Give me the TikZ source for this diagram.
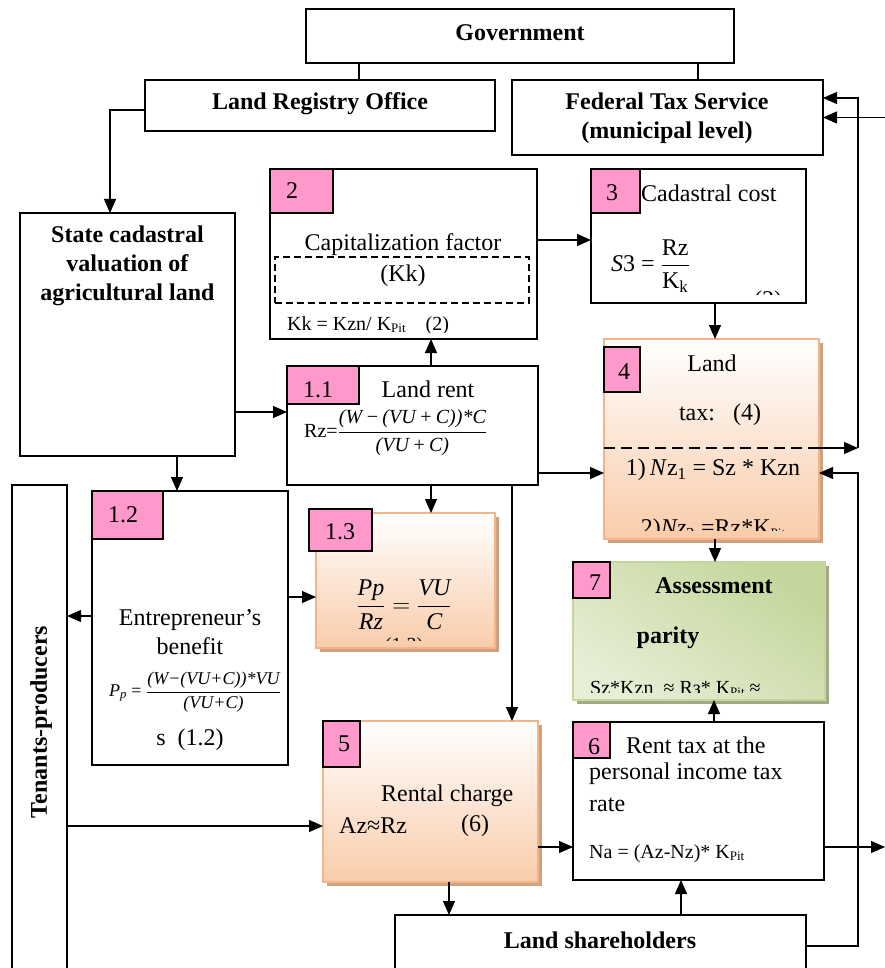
\documentclass[tikz,border=0pt]{standalone}
\usepackage{amsmath}
\usepackage{fontspec}
\setmainfont{Liberation Serif}
\usetikzlibrary{arrows.meta,calc,shadows}
\definecolor{pinkl}{RGB}{255,153,204}
\definecolor{orbord}{RGB}{244,180,135}
\definecolor{orbot}{RGB}{249,204,170}
\definecolor{orshadow}{RGB}{206,162,128}
\definecolor{grbord}{RGB}{196,215,155}
\definecolor{grdark}{RGB}{196,214,155}
\definecolor{grlight}{RGB}{236,242,224}
\definecolor{grshadow}{RGB}{160,170,135}
\newcommand{\kpit}{K\raisebox{-1.5pt}{\fontsize{13}{13}\selectfont Pit}}
\tikzset{
  box/.style={draw=black, line width=1.2pt, inner sep=0pt, outer sep=0pt, anchor=north west, fill=white},
  lbl/.style={box, fill=pinkl},
  arr/.style={line width=1.2pt, -{Triangle[length=14pt,width=12pt]}},
  ln/.style={line width=1.2pt},
  txt/.style={inner sep=0pt, font=\fontsize{24}{29}\selectfont},
  stxt/.style={inner sep=0pt, font=\fontsize{20}{24}\selectfont},
  btxt/.style={inner sep=0pt, font=\fontsize{24}{29}\selectfont\bfseries},
  orbox/.style={box, draw=orbord, top color=white, bottom color=orbot,
    drop shadow={shadow xshift=4pt, shadow yshift=-4pt, fill=orshadow, opacity=1}},
  grbox/.style={box, draw=grbord, top color=grdark, middle color=grlight, bottom color=grlight!85!grdark, shading angle=-35,
    drop shadow={shadow xshift=4pt, shadow yshift=-4pt, fill=grshadow, opacity=1}},
}
\begin{document}
\begin{tikzpicture}[x=1pt,y=-1pt]
\useasboundingbox (0,0) rectangle (885,968);
\fill[white] (0,0) rectangle (885,968);

% main boxes
\node[box, minimum width=428pt, minimum height=54pt] (gov) at (306,9) {};
\node[box, minimum width=350pt, minimum height=51pt] (lro) at (145,80) {};
\node[box, minimum width=311pt, minimum height=75pt] (fts) at (512,80) {};
\node[box, minimum width=215pt, minimum height=243pt] (scv) at (20,213) {};
\node[box, minimum width=267pt, minimum height=170pt] (b2) at (270,169) {};
\node[box, minimum width=215pt, minimum height=134pt] (b3) at (591,169) {};
\node[box, minimum width=251pt, minimum height=119pt] (b11) at (287,366) {};
\node[orbox, minimum width=215pt, minimum height=200pt] (b4) at (604,339) {};
\node[box, minimum width=196pt, minimum height=274pt] (b12) at (92,491) {};
\node[orbox, minimum width=179pt, minimum height=135pt] (b13) at (316,513) {};
\node[grbox, minimum width=252pt, minimum height=138pt] (b7) at (573,562) {};
\node[box, minimum width=55pt, minimum height=500pt] (ten) at (12,485) {};
\node[orbox, minimum width=215pt, minimum height=161pt] (b5) at (323,721) {};
\node[box, minimum width=251pt, minimum height=158pt] (b6) at (573,722) {};
\node[box, minimum width=411pt, minimum height=70pt] (ls) at (395,915) {};

% inner dashed box and dashed divider
\node[draw, dash pattern=on 7pt off 4pt, line width=1.2pt, inner sep=0pt, outer sep=0pt, anchor=north west, minimum width=254pt, minimum height=46pt] (kkb) at (275,257) {};
\draw[line width=2pt, dash pattern=on 11pt off 6pt] ([yshift=-9pt]b4.west) -- ([yshift=-9pt]b4.east);

% pink labels
\node[lbl, minimum width=63pt, minimum height=44pt] (l2) at (270,169) {};
\node[lbl, minimum width=49pt, minimum height=44pt] (l3) at (591,169) {};
\node[lbl, minimum width=72pt, minimum height=38pt] (l11) at (287,366) {};
\node[lbl, minimum width=36pt, minimum height=45pt] (l4) at (604,347) {};
\node[lbl, minimum width=71pt, minimum height=48pt] (l12) at (92,491) {};
\node[lbl, minimum width=63pt, minimum height=42pt] (l13) at (309,509) {};
\node[lbl, minimum width=37pt, minimum height=36pt] (l7) at (573,562) {};
\node[lbl, minimum width=37pt, minimum height=46pt] (l5) at (323,721) {};
\node[lbl, minimum width=37pt, minimum height=36pt] (l6) at (573,722) {};

% label numbers
\node[txt] (n2) at (292,191) {2};
\node[txt] (n3) at (612,193) {3};
\node[txt] (n11) at (318,390) {1.1};
\node[txt] (n4) at (624,372) {4};
\node[txt] (n12) at (123,515) {1.2};
\node[txt] (n13) at (340,532) {1.3};
\node[txt] (n7) at (595,583) {7};
\node[txt] (n5) at (344,744) {5};
\node[txt] (n6) at (594,747) {6};

% titles
\node[btxt] (tgov) at (520,33) {Government};
\node[btxt] (tlro) at (320,104) {Land Registry Office};
\node[btxt, align=center] (tfts) at (667,118) {Federal Tax Service\\(municipal level)};
\node[btxt, align=center] (tscv) at (127.5,266) {State cadastral\\valuation of\\agricultural land};
\node[btxt] (tls) at (600,940) {Land shareholders};
\node[btxt, rotate=90] (tten) at (41,722) {Tenants-producers};

% box 2
\node[txt] (t2a) at (403,245) {Capitalization factor};
\node[txt] (t2b) at (403,276) {(Kk)};
\begin{scope}
  \clip (b2.north west) rectangle ([yshift=7pt]b2.south east);
  \node[stxt, anchor=west] (t2c) at (287,326) {Kk = Kzn/ \kpit\quad(2)};
\end{scope}

% box 3
\node[txt, anchor=west] (t3a) at (641,193) {Cadastral cost};
\begin{scope}
  \clip (b3.north west) rectangle ([yshift=9pt]b3.south east);
  \node[txt, anchor=west] (t3f) at (611,266) {\textit{S}3 = $\dfrac{\mbox{Rz}}{\mbox{K\textsubscript{k}}}$};
  \node[txt] (t3n) at (768,302) {(3)};
\end{scope}

% box 1.1
\node[txt] (t11a) at (428,389) {Land rent};
\node[anchor=west, inner sep=0pt, font=\fontsize{20}{24}\selectfont] (t11f) at (304,433) {Rz=$\dfrac{\mbox{\itshape (W\,−\,(VU\,+\,C))*C}}{\mbox{\itshape (VU\,+\,C)}}$};

% box 4
\node[txt] (t4a) at (712,363) {Land};
\node[txt] (t4b) at (720,415) {tax:\ \ \ (4)};
\node[txt] (t4c) at (713,470) {1)\,\textit{N}z\textsubscript{1} = Sz * Kzn};
\begin{scope}
  \clip (b4.north west) rectangle ([yshift=9pt]b4.south east);
  \node[txt] (t4d) at (713,530) {2)\textit{Nz}\textsubscript{2} =Rz*\kpit};
\end{scope}

% box 1.2
\node[txt, align=center] (t12a) at (190,632) {Entrepreneur’s\\benefit};
\node[inner sep=0pt, font=\fontsize{18}{22}\selectfont] (t12f) at (195,692) {\textit{P}\textsubscript{\itshape p} = $\dfrac{\mbox{\itshape (W−(VU+C))*VU}}{\mbox{\itshape (VU+C)}}$};
\node[txt] (t12b) at (190,740) {s\ \ (1.2)};

% box 1.3
\node[txt] (t13f) at (404,605) {$\dfrac{\mbox{\itshape Pp}}{\mbox{\itshape Rz}}=\dfrac{\mbox{\itshape VU}}{\mbox{\itshape C}}$};
\begin{scope}
  \clip (b13.north west) rectangle ([yshift=8pt]b13.south east);
  \node[stxt] (t13n) at (404,647) {(1.3)};
\end{scope}

% box 7
\node[btxt] (t7a) at (714,586) {Assessment};
\node[btxt] (t7b) at (668,638) {parity};
\begin{scope}
  \clip (b7.north west) rectangle ([yshift=8pt]b7.south east);
  \node[stxt, anchor=west] (t7c) at (590,689) {Sz*Kzn\ \ ≈ Rз* \kpit\ ≈};
\end{scope}

% box 5
\node[txt, anchor=west] (t5a) at (381,796) {Rental charge};
\node[txt, anchor=west] (t5b) at (339,826) {Az≈Rz};
\node[txt, anchor=west] (t5c) at (461,826) {(6)};

% box 6
\node[txt, anchor=west] (t6a) at (626,745) {Rent tax at the};
\node[txt, anchor=west] (t6b) at (589,774) {personal income tax};
\node[txt, anchor=west] (t6c) at (589,805) {rate};
\node[stxt, anchor=west] (t6d) at (589,854) {Na = (Az-Nz)* \kpit};

% connectors
\coordinate (rx) at (858,0);
\coordinate (edgeA) at (885,117.5);
\coordinate (edgeB) at (885,847);
\draw[ln] ([xshift=53pt]gov.south west) -- ([xshift=53pt]gov.south west |- lro.north);
\draw[ln] ([xshift=392pt]gov.south west) -- ([xshift=392pt]gov.south west |- fts.north);
\draw[arr] ([yshift=-4.5pt]lro.west) -| ([xshift=-17.5pt]scv.north);
\draw[arr] ([yshift=-77.5pt]scv.east) -- ([yshift=-77.5pt]scv.east -| b11.west);
\draw[arr] ([xshift=49.5pt]scv.south) -- ([xshift=49.5pt]scv.south |- b12.north);
\draw[arr] ([yshift=-4pt]b3.west -| b2.east) -- ([yshift=-4pt]b3.west);
\draw[arr] ([xshift=18.5pt]b11.north) -- ([xshift=18.5pt]b11.north |- b2.south);
\draw[arr] ([xshift=16.5pt]b3.south) -- ([xshift=16.5pt]b3.south |- b4.north);
\draw[arr] ([yshift=-47.5pt]b11.east) -- ([yshift=-47.5pt]b11.east -| b4.west);
\draw[arr] ([xshift=18.5pt]b11.south) -- ([xshift=18.5pt]b11.south |- b13.north);
\draw[arr] ([xshift=99.5pt]b11.south) -- ([xshift=99.5pt]b11.south |- b5.north);
\draw[arr] ([yshift=12pt]b12.west) -- ([yshift=12pt]b12.west -| ten.east);
\draw[arr] ([yshift=31pt]b12.east) -- ([yshift=31pt]b12.east -| b13.west);
\draw[arr] ([xshift=3.5pt]b4.south) -- ([xshift=3.5pt]b4.south |- b7.north);
\draw[arr] ([xshift=15.5pt]b6.north) -- ([xshift=15.5pt]b6.north |- b7.south);
\draw[arr] ([yshift=-24.5pt]b5.west -| ten.east) -- ([yshift=-24.5pt]b5.west);
\draw[arr] ([yshift=-46pt]b6.west -| b5.east) -- ([yshift=-46pt]b6.west);
\draw[arr] ([yshift=-46pt]b6.east) -- (edgeB);
\draw[arr] ([xshift=18.5pt]b5.south) -- ([xshift=18.5pt]b5.south |- ls.north);
\draw[arr] ([xshift=-17.5pt]b6.south |- ls.north) -- ([xshift=-17.5pt]b6.south);
\draw[arr] ([yshift=4pt]ls.east) -| ([yshift=-34pt]b4.east -| rx) -- ([yshift=-34pt]b4.east);
\draw[arr] ([yshift=-9pt]b4.east) -- ([yshift=-9pt]b4.east -| rx);
\draw[arr] ([yshift=-9pt]b4.east -| rx) |- ([yshift=19.5pt]fts.east);
\draw[arr] (edgeA) -- (fts.east);
\end{tikzpicture}
\end{document}
